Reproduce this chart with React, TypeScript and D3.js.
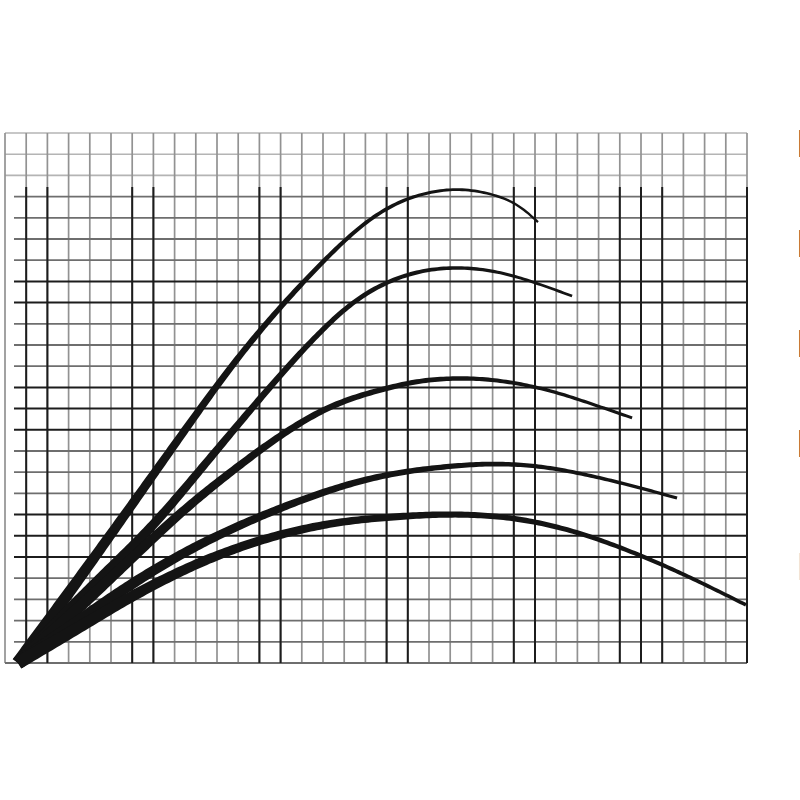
import React, { useEffect, useRef } from "react";
import * as d3 from "d3";

// grid paper: 35 x 25 cells
const xCells = 35;
const yCells = 25;
const darkCols = [1, 2, 6, 7, 12, 13, 18, 19, 24, 25, 29, 30, 31, 35];
const darkRows = [7, 8, 12, 13, 14, 18, 19, 20];
const firstDarkRow = 3;

// curves, in grid units (x: cells from left, y: cells from bottom)
const curve1X = [0.61, 4.48, 8.25, 10.75, 13.11, 16.27, 18.16, 19.72, 21.32, 22.88, 24.15, 25.14];
const curve1Y = [0, 5.33, 10.66, 14.15, 16.98, 20.28, 21.6, 22.17, 22.41, 22.17, 21.7, 20.8];
const curve2X = [0.61, 4.48, 6.84, 9.2, 11.56, 13.92, 16.27, 18.16, 19.72, 21.32, 22.88, 24.43, 26.75];
const curve2Y = [0, 4.01, 6.27, 9.1, 11.93, 14.67, 17.03, 18.07, 18.54, 18.68, 18.54, 18.16, 17.31];
const curve3X = [0.61, 3.68, 6.04, 8.4, 10.75, 13.11, 15.47, 18.16, 19.72, 21.32, 22.88, 25.24, 27.59, 29.58];
const curve3Y = [0, 2.78, 5.0, 7.22, 9.1, 10.85, 12.26, 13.02, 13.35, 13.44, 13.4, 13.02, 12.26, 11.56];
const curve4X = [0.61, 3.68, 6.04, 9.2, 12.36, 15.47, 18.16, 21.32, 23.68, 26.04, 29.15, 31.7];
const curve4Y = [0, 2.12, 3.82, 5.66, 7.08, 8.25, 8.96, 9.34, 9.43, 9.2, 8.49, 7.78];
const curve5X = [0.61, 3.68, 6.04, 9.2, 12.36, 15.47, 18.16, 20.52, 22.88, 25.24, 27.59, 29.95, 32.31, 34.95];
const curve5Y = [0, 1.79, 3.21, 4.81, 5.94, 6.65, 6.89, 7.03, 6.98, 6.65, 6.0, 5.1, 4.06, 2.74];

const curveXs = [curve1X, curve2X, curve3X, curve4X, curve5X];
const curveYs = [curve1Y, curve2Y, curve3Y, curve4Y, curve5Y];
const endWidths = [2.3, 2.7, 3, 3.2, 3.6];

// labels cut off at the right edge
const sideLabels = ["I", "I", "I", "I", "I"];
const sideLabelShade = ["#111", "#111", "#111", "#111", "#d0d0d0"];

export default function App() {
  const ref = useRef<SVGSVGElement | null>(null);

  useEffect(() => {
    const width = 800;
    const height = 800;
    const svg = d3.select(ref.current);
    svg.selectAll("*").remove();

    const x = d3.scaleLinear().domain([0, xCells]).range([5, 747]);
    const y = d3.scaleLinear().domain([0, yCells]).range([663, 133]);

    svg.append("rect").attr("width", width).attr("height", height).attr("fill", "#fff");

    const grid = svg.append("g");

    // top band, lighter
    grid
      .selectAll("line.h")
      .data(d3.range(yCells - firstDarkRow + 1, yCells + 1))
      .join("line")
      .attr("x1", x(0))
      .attr("x2", x(xCells))
      .attr("y1", (d) => y(d))
      .attr("y2", (d) => y(d))
      .attr("stroke", "#b4b4b4")
      .attr("stroke-width", 1.6);

    grid
      .selectAll("line.v")
      .data(d3.range(0, xCells + 1))
      .join("line")
      .attr("x1", (d) => x(d))
      .attr("x2", (d) => x(d))
      .attr("y1", y(yCells))
      .attr("y2", y(0))
      .attr("stroke", "#929292")
      .attr("stroke-width", 1.7);

    // medium rows below the top band
    const rowsFromTop = d3.range(firstDarkRow, yCells + 1);
    grid
      .selectAll("line.m")
      .data(rowsFromTop)
      .join("line")
      .attr("x1", (d) => (d === yCells ? x(0) : 14))
      .attr("x2", x(xCells))
      .attr("y1", (d) => y(yCells - d))
      .attr("y2", (d) => y(yCells - d))
      .attr("stroke", (d) => (darkRows.includes(d) ? "#1c1c1c" : "#6e6e6e"))
      .attr("stroke-width", (d) => (darkRows.includes(d) ? 2 : 1.8));

    grid
      .selectAll("line.d")
      .data(darkCols)
      .join("line")
      .attr("x1", (d) => x(d))
      .attr("x2", (d) => x(d))
      .attr("y1", 187)
      .attr("y2", y(0))
      .attr("stroke", "#1c1c1c")
      .attr("stroke-width", 2);

    // tapered curves
    const line = d3
      .line<[number, number]>()
      .x((d) => x(d[0]))
      .y((d) => y(d[1]))
      .curve(d3.curveBasis);

    const area = d3.line<[number, number]>().curve(d3.curveLinearClosed);

    curveXs.forEach((xs, k) => {
      const pts: [number, number][] = xs.map((v, i) => [v, curveYs[k][i]]);
      const tmp = svg.append("path").attr("d", line(pts)).attr("fill", "none");
      const node = tmp.node() as SVGPathElement;
      const len = node.getTotalLength();
      tmp.remove();
      const n = 240;
      const samples = d3.range(n + 1).map((i) => {
        const p = node.getPointAtLength((len * i) / n);
        return [p.x, p.y];
      });
      const left: [number, number][] = [];
      const right: [number, number][] = [];
      samples.forEach((p, i) => {
        const a = samples[Math.max(0, i - 1)];
        const b = samples[Math.min(n, i + 1)];
        const dx = b[0] - a[0];
        const dy = b[1] - a[1];
        const l = Math.hypot(dx, dy) || 1;
        const t = i / n;
        const w = endWidths[k] + (13 - endWidths[k]) * Math.pow(1 - t, 1.4);
        const nx = (-dy / l) * (w / 2);
        const ny = (dx / l) * (w / 2);
        left.push([p[0] + nx, p[1] + ny]);
        right.push([p[0] - nx, p[1] - ny]);
      });
      svg
        .append("path")
        .attr("d", area(left.concat(right.reverse())))
        .attr("fill", "#141414");
    });

    // side labels, mostly outside the picture
    const labelBase = [157, 257, 357, 457, 580];
    svg
      .selectAll("text.side")
      .data(sideLabels)
      .join("text")
      .attr("x", 796)
      .attr("y", (_, i) => labelBase[i])
      .attr("font-family", "DejaVu Sans")
      .attr("font-weight", "bold")
      .attr("font-size", 38)
      .attr("fill", (_, i) => sideLabelShade[i])
      .text((d) => d);
  }, []);

  return (
    <svg
      ref={ref}
      width={800}
      height={800}
      style={{ position: "absolute", left: 0, top: 0, display: "block" }}
    />
  );
}
